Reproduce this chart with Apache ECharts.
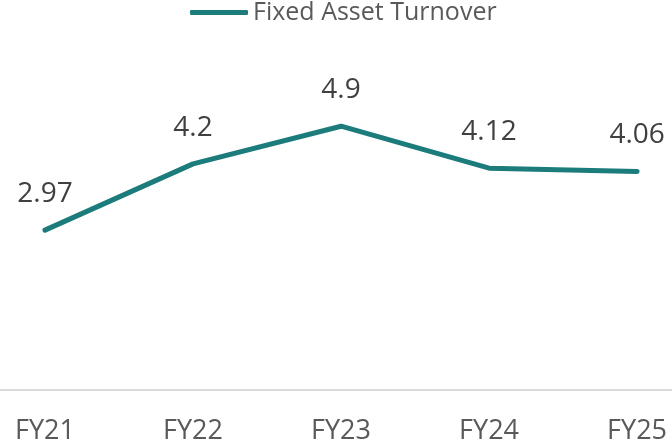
<!DOCTYPE html>
<html><head><meta charset="utf-8">
<script src="https://cdn.jsdelivr.net/npm/echarts@6/dist/echarts.min.js"></script>
<style>html,body{margin:0;padding:0;background:#fff}#c{width:672px;height:445px}</style>
</head><body><div id="c"></div>
<script>
const categories = ["FY21", "FY22", "FY23", "FY24", "FY25"];
const seriesName = "Fixed Asset Turnover";
const values = [2.97, 4.2, 4.9, 4.12, 4.06];
const labelText = ["2.97", "4.2", "4.9", "4.12", "4.06"];

const chart = echarts.init(document.getElementById('c'), null, {renderer: 'canvas'});
const teal = '#1c7b7b';
const font = 'Open Sans';
chart.setOption({
  animation: false,
  textStyle: {fontFamily: font},
  legend: {
    top: 0, left: 185, padding: [0, 5, 0, 5],
    data: [{name: seriesName, icon: 'roundRect'}],
    itemWidth: 58, itemHeight: 5, itemGap: 2,
    textStyle: {fontSize: 25, color: '#595959', fontFamily: font}
  },
  grid: {left: 0, right: 0, top: 67, bottom: 53, containLabel: false},
  xAxis: {
    type: 'value', min: -0.304, max: 4.236,
    axisLine: {show: true, lineStyle: {color: '#d9d9d9', width: 2}},
    axisTick: {show: false},
    splitLine: {show: false},
    axisLabel: {
      customValues: categories.map((c, i) => i),
      fontSize: 27, color: '#595959', margin: 28, fontFamily: font,
      formatter: v => categories[Math.round(v)]
    }
  },
  yAxis: {type: 'value', min: 0, max: 6, interval: 1, show: false, splitLine: {show: false}},
  series: [{
    name: seriesName, type: 'line',
    data: values.map((v, i) => [i, v]),
    symbol: 'circle', symbolSize: 2, showSymbol: true, color: teal,
    itemStyle: {color: teal},
    lineStyle: {width: 5, color: teal, cap: 'round', join: 'round'},
    label: {
      show: true, position: 'top', distance: 21,
      fontSize: 28, color: '#404040', fontFamily: font,
      formatter: p => labelText[p.dataIndex]
    }
  }]
});
</script></body></html>
